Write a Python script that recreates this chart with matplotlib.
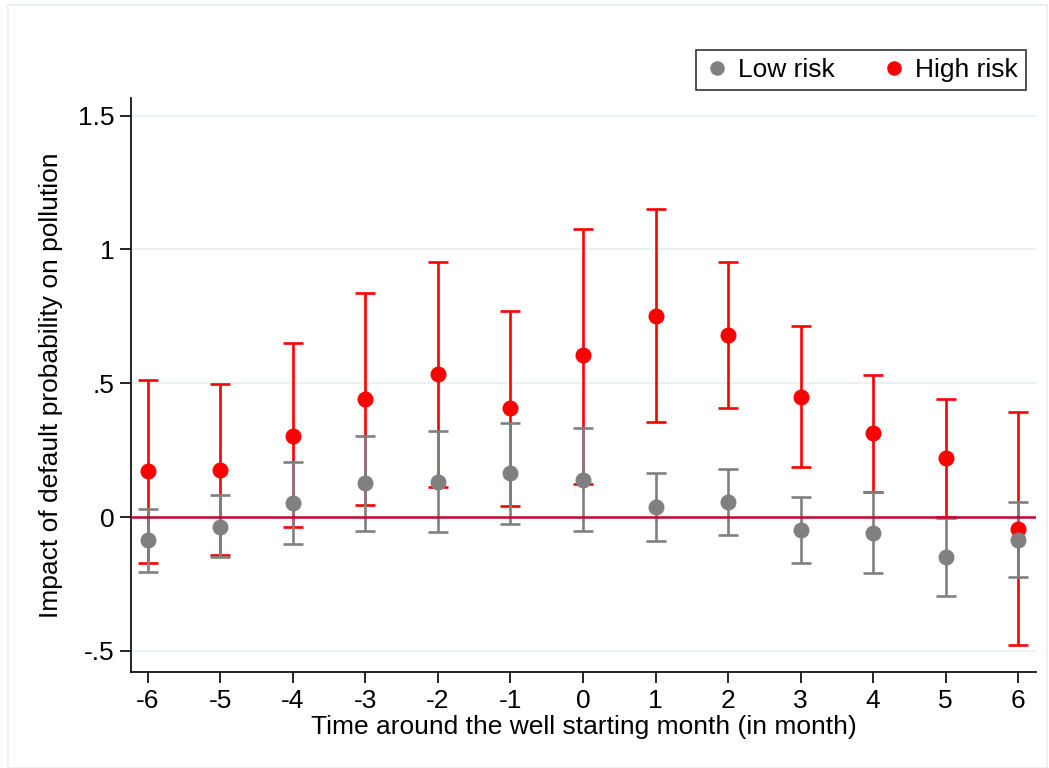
import numpy as np
import matplotlib.pyplot as plt
from matplotlib.patches import Rectangle

plt.rcParams['font.family'] = ['Liberation Sans', 'DejaVu Sans']

months = [-6, -5, -4, -3, -2, -1, 0, 1, 2, 3, 4, 5, 6]

low_est = [-0.086, -0.037, 0.052, 0.127, 0.131, 0.164, 0.138, 0.037, 0.056, -0.049, -0.060, -0.150, -0.086]
low_hi = [0.030, 0.082, 0.206, 0.303, 0.321, 0.351, 0.333, 0.164, 0.179, 0.075, 0.093, -0.004, 0.056]
low_lo = [-0.206, -0.150, -0.101, -0.052, -0.056, -0.026, -0.052, -0.090, -0.067, -0.172, -0.209, -0.295, -0.224]

high_est = [0.172, 0.176, 0.303, 0.441, 0.535, 0.407, 0.606, 0.751, 0.680, 0.449, 0.314, 0.221, -0.045]
high_hi = [0.512, 0.497, 0.650, 0.837, 0.953, 0.770, 1.077, 1.151, 0.953, 0.714, 0.531, 0.441, 0.393]
high_lo = [-0.172, -0.142, -0.037, 0.045, 0.112, 0.041, 0.123, 0.355, 0.407, 0.187, 0.093, 0.000, -0.479]

yticks = [-0.5, 0, 0.5, 1, 1.5]
ytick_labels = ['-.5', '0', '.5', '1', '1.5']

fig = plt.figure(figsize=(10.49, 7.68), dpi=100)
ax = fig.add_axes([0.1249, 0.125, 0.8627, 0.7474])

# light outer frame like Stata's graph region
fig.patches.append(Rectangle((0.008, 0.0), 0.99, 0.994, transform=fig.transFigure,
                             fill=False, edgecolor='#e8eff0', linewidth=1.2))

for y in [-0.5, 0.5, 1, 1.5]:
    ax.axhline(y, color='#eaf2f3', linewidth=1.5, zorder=0)

x = np.array(months)
high_est = np.array(high_est)
low_est = np.array(low_est)

ax.errorbar(x, high_est, yerr=[high_est - np.array(high_lo), np.array(high_hi) - high_est],
            fmt='none', ecolor='#ff0000', elinewidth=1.9, capsize=7.5, capthick=1.9, zorder=2)
ax.errorbar(x, low_est, yerr=[low_est - np.array(low_lo), np.array(low_hi) - low_est],
            fmt='none', ecolor='#808080', elinewidth=1.9, capsize=7.5, capthick=1.9, zorder=3)
ax.axhline(0, color='#c10534', linewidth=1.8, zorder=4)
ax.plot(x, high_est, 'o', color='#ff0000', markersize=10.5, zorder=5, label='High risk')
ax.plot(x, low_est, 'o', color='#808080', markersize=10.5, zorder=6, label='Low risk')

ax.set_xlim(-6.234, 6.248)
ax.set_ylim(-0.579, 1.566)
ax.set_xticks(months)
ax.set_xticklabels([str(m) for m in months])
ax.set_yticks(yticks)
ax.set_yticklabels(ytick_labels)
ax.tick_params(axis='both', labelsize=19, length=8, width=1.2, direction='out', pad=4)

for s in ['top', 'right']:
    ax.spines[s].set_visible(False)
for s in ['left', 'bottom']:
    ax.spines[s].set_linewidth(1.2)

ax.set_xlabel('Time around the well starting month (in month)', fontsize=19, labelpad=2)
ax.set_ylabel('Impact of default probability on pollution', fontsize=19, labelpad=11)

handles, labels = ax.get_legend_handles_labels()
leg = fig.legend([handles[1], handles[0]], [labels[1], labels[0]], ncol=2,
                 loc='upper right', bbox_to_anchor=(0.978, 0.935), borderaxespad=0,
                 fontsize=19, frameon=True, fancybox=False, handletextpad=0.3,
                 columnspacing=1.75, handlelength=1.0, borderpad=0.3, markerscale=0.9)
leg.get_frame().set_edgecolor('black')
leg.get_frame().set_linewidth(1.2)

plt.savefig('out.png', dpi=100)
